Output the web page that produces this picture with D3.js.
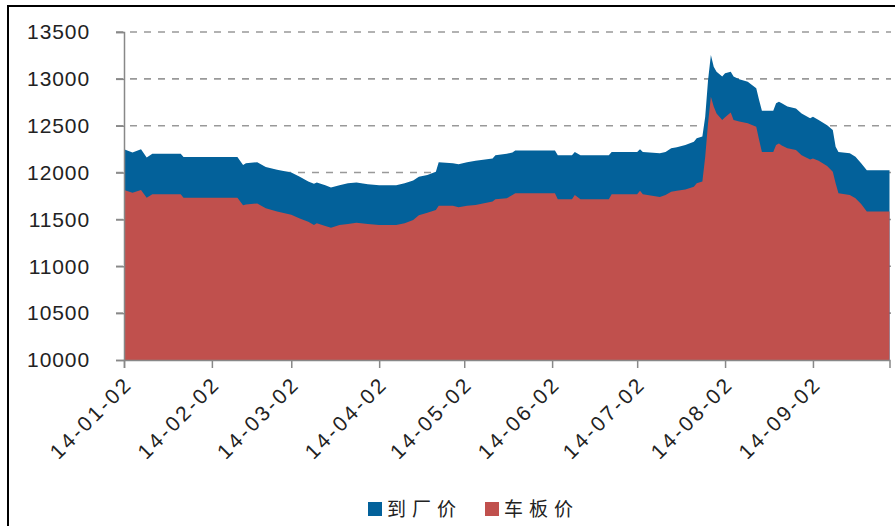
<!DOCTYPE html>
<html>
<head>
<meta charset="utf-8">
<script src="https://cdn.jsdelivr.net/npm/d3@7"></script>
<style>
  body { margin: 0; background: #fff; }
  .tick text { font-family: "Liberation Sans", Arial, sans-serif; fill: #222; }
</style>
</head>
<body>
<div id="chart"></div>
<script>
// Define SVG area dimensions
var svgWidth = 895;
var svgHeight = 526;

// Data
var dates = [
  "2014-01-02", "2014-01-05", "2014-01-08", "2014-01-10", "2014-01-12", "2014-01-22", "2014-01-23",
  "2014-02-11", "2014-02-13", "2014-02-14", "2014-02-18", "2014-02-21", "2014-02-25",
  "2014-03-02", "2014-03-05", "2014-03-08", "2014-03-10", "2014-03-11", "2014-03-14", "2014-03-16",
  "2014-03-19", "2014-03-22", "2014-03-25", "2014-03-29",
  "2014-04-02", "2014-04-08", "2014-04-11", "2014-04-14", "2014-04-16", "2014-04-19", "2014-04-22",
  "2014-04-23", "2014-04-28", "2014-04-30",
  "2014-05-03", "2014-05-06", "2014-05-12", "2014-05-13", "2014-05-17", "2014-05-19", "2014-05-20",
  "2014-06-03", "2014-06-04", "2014-06-09", "2014-06-10", "2014-06-12", "2014-06-22", "2014-06-23",
  "2014-07-02", "2014-07-03", "2014-07-04", "2014-07-10", "2014-07-12", "2014-07-14", "2014-07-16",
  "2014-07-19", "2014-07-22", "2014-07-23", "2014-07-25", "2014-07-26", "2014-07-27", "2014-07-28",
  "2014-07-29", "2014-07-30",
  "2014-08-01", "2014-08-02", "2014-08-04", "2014-08-05", "2014-08-07", "2014-08-10", "2014-08-13",
  "2014-08-14", "2014-08-15", "2014-08-19", "2014-08-20", "2014-08-21", "2014-08-22", "2014-08-24",
  "2014-08-27", "2014-08-29",
  "2014-09-01", "2014-09-02", "2014-09-04", "2014-09-07", "2014-09-09", "2014-09-10", "2014-09-11",
  "2014-09-15", "2014-09-17", "2014-09-19", "2014-09-21", "2014-09-29"
];

// 到厂价 (delivered price)
var arrivalPrice = [
  12250, 12215, 12250, 12160, 12200, 12200, 12165,
  12165, 12080, 12100, 12110, 12060, 12030,
  12000, 11955, 11905, 11880, 11895, 11865, 11840,
  11865, 11885, 11895, 11875,
  11865, 11865, 11885, 11915, 11955, 11975, 12010,
  12110, 12100, 12090,
  12110, 12125, 12150, 12185, 12200, 12215, 12235,
  12235, 12185, 12185, 12220, 12185, 12185, 12220,
  12220, 12250, 12220, 12205, 12220, 12260, 12270,
  12295, 12330, 12365, 12385, 12595, 12985, 13255,
  13130, 13075,
  13025, 13060, 13075, 13025, 12995, 12970, 12900,
  12775, 12660, 12660, 12740, 12755, 12740, 12705,
  12685, 12630,
  12580, 12595, 12560, 12505, 12455, 12275, 12220,
  12205, 12170, 12100, 12025, 12025
];

// 车板价 (ex-works price)
var boardPrice = [
  11815, 11785, 11815, 11730, 11770, 11770, 11730,
  11730, 11650, 11660, 11670, 11620, 11585,
  11550, 11510, 11475, 11440, 11460, 11430, 11410,
  11440, 11450, 11465, 11450,
  11440, 11440, 11460, 11495, 11545, 11570, 11600,
  11645, 11645, 11630,
  11645, 11655, 11690, 11715, 11725, 11760, 11780,
  11780, 11715, 11715, 11760, 11715, 11715, 11770,
  11770, 11805, 11770, 11740, 11760, 11795, 11805,
  11820, 11850, 11885, 11905, 12170, 12525, 12810,
  12705, 12630,
  12560, 12590, 12640, 12560, 12545, 12525, 12490,
  12350, 12220, 12220, 12295, 12310, 12290, 12260,
  12240, 12185,
  12140, 12150, 12125, 12070, 12010, 11885, 11780,
  11760, 11725, 11665, 11585, 11585
];

var seriesNames = ["到厂价", "车板价"];
var seriesColors = ["#03619a", "#c0504d"];

var tickDates = ["2014-01-02", "2014-02-02", "2014-03-02", "2014-04-02", "2014-05-02",
  "2014-06-02", "2014-07-02", "2014-08-02", "2014-09-02"];
var yTicks = [10000, 10500, 11000, 11500, 12000, 12500, 13000, 13500];

var parseDate = d3.timeParse("%Y-%m-%d");

// build rows for the area generator
var rows = dates.map(function (d, i) {
  return { date: parseDate(d), arrival: arrivalPrice[i], board: boardPrice[i] };
});

var svg = d3.select("#chart")
  .append("svg")
  .attr("width", svgWidth)
  .attr("height", svgHeight);

// outer frame
svg.append("rect")
  .attr("x", 8)
  .attr("y", 6)
  .attr("width", 920)
  .attr("height", 540)
  .attr("fill", "none")
  .attr("stroke", "#000")
  .attr("stroke-width", 2);

// scales
var xScale = d3.scaleTime()
  .domain([parseDate("2014-01-02"), parseDate("2014-09-29")])
  .range([124, 889.5]);

var yScale = d3.scaleLinear()
  .domain([10000, 13500])
  .range([360, 32]);

// dashed gridlines
svg.append("g")
  .selectAll("line")
  .data(yTicks.slice(1))
  .enter()
  .append("line")
  .attr("x1", 116)
  .attr("x2", 891)
  .attr("y1", function (d) { return yScale(d); })
  .attr("y2", function (d) { return yScale(d); })
  .attr("stroke", "#999")
  .attr("stroke-width", 1.6)
  .attr("stroke-dasharray", "7,7");

// areas, delivered price behind, ex-works price in front
var arrivalArea = d3.area()
  .x(function (d) { return xScale(d.date); })
  .y0(yScale(10000))
  .y1(function (d) { return yScale(d.arrival); });

var boardArea = d3.area()
  .x(function (d) { return xScale(d.date); })
  .y0(yScale(10000))
  .y1(function (d) { return yScale(d.board); });

svg.append("path")
  .datum(rows)
  .attr("d", arrivalArea)
  .attr("fill", seriesColors[0]);

svg.append("path")
  .datum(rows)
  .attr("d", boardArea)
  .attr("fill", seriesColors[1]);

// y axis
var yAxis = svg.append("g")
  .attr("transform", "translate(124,0)")
  .call(d3.axisLeft(yScale).tickValues(yTicks).tickSize(8).tickPadding(26).tickFormat(d3.format("d")));

yAxis.selectAll("text")
  .attr("font-size", "21px")
  .attr("letter-spacing", "0.9px");

// x axis
var xAxis = svg.append("g")
  .attr("transform", "translate(0,360)")
  .call(d3.axisBottom(xScale)
    .tickValues(tickDates.map(parseDate))
    .tickSize(8)
    .tickFormat(d3.timeFormat("%y-%m-%d")));

xAxis.selectAll("text")
  .attr("font-size", "21px")
  .attr("letter-spacing", "2.8px")
  .attr("text-anchor", "end")
  .attr("dy", "0.35em")
  .attr("transform", "translate(4,20) rotate(-45)")
  .attr("y", 0)
  .attr("x", 0);

[yAxis, xAxis].forEach(function (ax) {
  ax.select(".domain").attr("stroke", "#888").attr("stroke-width", 1.5);
  ax.selectAll(".tick line").attr("stroke", "#888").attr("stroke-width", 1.5);
});

// legend
var legend = svg.append("g")
  .attr("transform", "translate(368,509)");

var legendX = [0, 117];
seriesNames.forEach(function (name, i) {
  legend.append("rect")
    .attr("x", legendX[i])
    .attr("y", -7)
    .attr("width", 14)
    .attr("height", 14)
    .attr("fill", seriesColors[i]);
  legend.append("text")
    .attr("x", legendX[i] + 19)
    .attr("y", 0)
    .attr("dy", "0.36em")
    .attr("font-family", "'Noto Sans CJK SC', sans-serif")
    .attr("font-size", "19px")
    .attr("letter-spacing", "6px")
    .attr("fill", "#222")
    .text(name);
});
</script>
</body>
</html>
